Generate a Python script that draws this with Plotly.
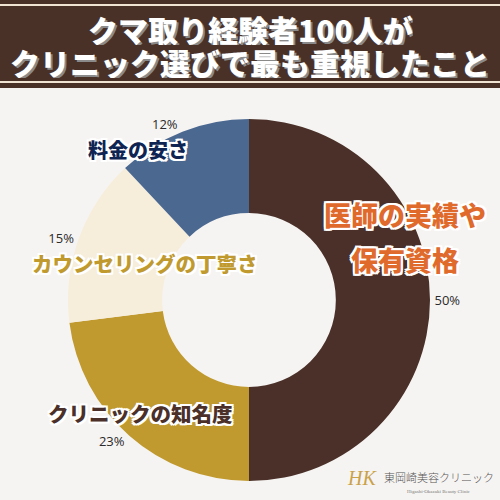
import plotly.graph_objects as go

categories = ["医師の実績や保有資格", "クリニックの知名度", "カウンセリングの丁寧さ", "料金の安さ"]
values = [50, 23, 15, 12]
colors = ["#4a3028", "#c09a2e", "#f6eddb", "#4b6891"]
label_colors = ["#e0692c", "#4a3028", "#c09a2e", "#0e2452"]
title_lines = ["クマ取り経験者100人が", "クリニック選びで最も重視したこと"]

outline = ", ".join(f"{dx}px {dy}px 0px #ffffff" for dx in (-2, 0, 2) for dy in (-2, 0, 2) if dx or dy)

fig = go.Figure()
fig.add_trace(go.Pie(
    labels=categories, values=values, sort=False, direction="clockwise", rotation=0,
    hole=0.48, marker=dict(colors=colors, line=dict(width=0)),
    texttemplate="%{value}%", textposition="outside",
    textfont=dict(family="Open Sans, sans-serif", size=13, color="#2a2a2a"),
    domain=dict(x=[0.136, 0.86], y=[0.038, 0.762]),
    showlegend=False, hoverinfo="label+value",
))

# category labels (first one wrapped over two lines)
label_items = [
    (405, 215, 27, "医師の実績や", label_colors[0]),
    (405, 259, 27, "保有資格", label_colors[0]),
    (140, 413, 20.5, categories[1], label_colors[1]),
    (145, 263, 20.5, categories[2], label_colors[2]),
    (138, 149, 20, categories[3], label_colors[3]),
]
for x, y, s, t, c in label_items:
    fig.add_annotation(x=x / 500, y=1 - y / 500, xref="paper", yref="paper", text=t,
                       showarrow=False, xanchor="center", yanchor="middle",
                       font=dict(family="Noto Sans CJK JP", size=s, color=c, weight=900, shadow=outline))

# title banner
fig.add_shape(type="rect", xref="paper", yref="paper", x0=0, x1=1, y0=1 - 88 / 500, y1=1,
              fillcolor="#4a3128", line=dict(width=0), layer="below")
for yy in (5, 82):
    fig.add_shape(type="line", xref="paper", yref="paper", x0=0, x1=1, y0=1 - yy / 500, y1=1 - yy / 500,
                  line=dict(color="#f1e4d2", width=2))
for t, yy in zip(title_lines, (29, 62)):
    fig.add_annotation(x=0.5, y=1 - yy / 500, xref="paper", yref="paper", text=t, showarrow=False,
                       xanchor="center", yanchor="middle", height=32, borderpad=0,
                       font=dict(family="Noto Sans CJK JP", size=30, color="#ffffff", weight=900,
                                 shadow="2px 2px 0px #8a8a8a"))

# logo
fig.add_annotation(x=362 / 500, y=1 - 478 / 500, xref="paper", yref="paper", text="<i>HK</i>", showarrow=False,
                   xanchor="center", yanchor="middle",
                   font=dict(family="Liberation Serif", size=20, color="#c9a24a"))
fig.add_annotation(x=439 / 500, y=1 - 477 / 500, xref="paper", yref="paper", text="東岡崎美容クリニック",
                   showarrow=False, xanchor="center", yanchor="middle",
                   font=dict(family="Noto Sans CJK JP", size=11, color="#555555", weight=300))
fig.add_annotation(x=439 / 500, y=1 - 491 / 500, xref="paper", yref="paper",
                   text="Higashi-Okazaki Beauty Clinic", showarrow=False, xanchor="center", yanchor="middle",
                   font=dict(family="Liberation Serif", size=5, color="#777777"))

fig.update_layout(width=500, height=500, margin=dict(l=0, r=0, t=0, b=0),
                  paper_bgcolor="#f6f4f2", plot_bgcolor="#f6f4f2")
fig.write_html("out.html", post_script="document.body.style.margin='0px';",
               config={"displayModeBar": False})
